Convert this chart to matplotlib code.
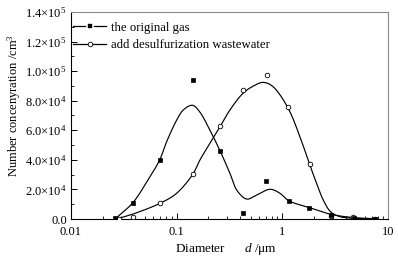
import matplotlib
matplotlib.use("Agg")
import numpy as np
import matplotlib.pyplot as plt
from matplotlib.ticker import FixedLocator, NullFormatter, LogLocator

plt.rcParams['font.family'] = ['Liberation Serif', 'DejaVu Serif']
plt.rcParams['mathtext.fontset'] = 'custom'
plt.rcParams['mathtext.rm'] = 'Liberation Serif'
plt.rcParams['mathtext.it'] = 'Liberation Serif:italic'

# measured points
orig_x = [0.026, 0.0388, 0.069, 0.1426, 0.257, 0.421, 0.705, 1.149, 1.80, 2.86, 4.75, 7.6]
orig_y = [700, 10600, 39700, 93800, 46200, 4300, 25500, 12400, 7600, 2800, 1000, 200]
desulf_x = [0.0282, 0.0388, 0.069, 0.1426, 0.257, 0.423, 0.71, 1.14, 1.81, 2.86, 4.7, 7.6]
desulf_y = [200, 1600, 10600, 30400, 62600, 87000, 97100, 75500, 37000, 2000, 1500, 200]

# fitted curves
orig_fit_x = [0.0261, 0.0388, 0.0513, 0.0690, 0.0804, 0.100, 0.1154, 0.1416, 0.166, 0.206,
              0.257, 0.319, 0.370, 0.459, 0.571, 0.764, 0.949, 1.148, 1.82, 2.86, 4.65, 7.5]
orig_fit_y = [0, 11300, 24300, 39900, 52300, 66900, 73700, 76900, 72300, 60200,
              46200, 30900, 19600, 13500, 16200, 20100, 17400, 12400, 7600, 3200, 1000, 200]
desulf_fit_x = [0.0272, 0.0388, 0.0695, 0.100, 0.1426, 0.166, 0.2065, 0.257, 0.319, 0.424,
                0.531, 0.659, 0.820, 1.137, 1.468, 1.81, 2.11, 2.44, 2.86, 3.51, 4.65, 7.5]
desulf_fit_y = [0, 3400, 10600, 17400, 30400, 39900, 51200, 62400, 73700, 85000,
                89900, 92400, 89400, 74800, 55600, 37000, 24100, 12800, 4900, 1600, 500, 0]

yticks = [0, 20000, 40000, 60000, 80000, 100000, 120000, 140000]
ytick_labels = ['0.0', '2.0×10$^4$', '4.0×10$^4$', '6.0×10$^4$',
                '8.0×10$^4$', '1.0×10$^5$', '1.2×10$^5$', '1.4×10$^5$']
xticks = [0.01, 0.1, 1, 10]
xtick_labels = ['0.01', '0.1', '1', '10']


def smooth_path(xs, ys, n=16):
    """Centripetal Catmull-Rom drawing path through the read curve points (log-x space)."""
    P = np.column_stack([np.log10(xs), np.asarray(ys, float) / 1e5])
    P = np.vstack([2 * P[0] - P[1], P, 2 * P[-1] - P[-2]])
    out = []
    for i in range(1, len(P) - 2):
        p0, p1, p2, p3 = P[i - 1], P[i], P[i + 1], P[i + 2]
        def tj(ti, a, b):
            return ti + np.linalg.norm(b - a) ** 0.5 + 1e-9
        t0 = 0.0
        t1 = tj(t0, p0, p1)
        t2 = tj(t1, p1, p2)
        t3 = tj(t2, p2, p3)
        t = np.linspace(t1, t2, n, endpoint=False)[:, None]
        A1 = (t1 - t) / (t1 - t0) * p0 + (t - t0) / (t1 - t0) * p1
        A2 = (t2 - t) / (t2 - t1) * p1 + (t - t1) / (t2 - t1) * p2
        A3 = (t3 - t) / (t3 - t2) * p2 + (t - t2) / (t3 - t2) * p3
        B1 = (t2 - t) / (t2 - t0) * A1 + (t - t0) / (t2 - t0) * A2
        B2 = (t3 - t) / (t3 - t1) * A2 + (t - t1) / (t3 - t1) * A3
        C = (t2 - t) / (t2 - t1) * B1 + (t - t1) / (t2 - t1) * B2
        out.append(C)
    out.append(P[-2][None, :])
    out = np.vstack(out)
    return 10 ** out[:, 0], np.clip(out[:, 1], 0, None) * 1e5


fig = plt.figure(figsize=(3.98, 2.61), dpi=100)
ax = fig.add_axes([71/398, 1-219/261, 317/398, 207/261])

sx, sy = smooth_path(orig_fit_x, orig_fit_y)
ax.plot(sx, sy, color='black', lw=0.85, zorder=2)
sx, sy = smooth_path(desulf_fit_x, desulf_fit_y)
ax.plot(sx, sy, color='black', lw=0.85, zorder=2)
ax.plot(desulf_x, desulf_y, linestyle='none', marker='o', ms=3.3, mfc='white', mec='black', mew=0.6, zorder=3)
ax.plot(orig_x, orig_y, linestyle='none', marker='s', ms=3.2, mfc='black', mec='black', mew=0.5, zorder=4)

# legend handles
h1, = ax.plot([], [], color='black', lw=0.9, marker='s', ms=4.4, mfc='black', mec='white', mew=1.2)
h2, = ax.plot([], [], color='black', lw=0.9, marker='o', ms=3.3, mfc='white', mec='black', mew=0.6)
leg = ax.legend([h1, h2], ['the original gas', 'add desulfurization wastewater'],
                loc='upper left', bbox_to_anchor=(-0.018, 0.99), frameon=False, fontsize=9.2,
                handlelength=2.6, handletextpad=0.4, labelspacing=0.45, borderaxespad=0.2)

ax.set_xscale('log')
ax.set_xlim(0.01, 10)
ax.set_ylim(0, 140000)
ax.set_xticks(xticks)
ax.set_xticklabels(xtick_labels)
ax.xaxis.set_minor_locator(LogLocator(base=10, subs=[2, 3, 4, 5, 6, 7, 8, 9], numticks=20))
ax.xaxis.set_minor_formatter(NullFormatter())
ax.set_yticks(yticks)
ax.set_yticklabels(ytick_labels)
ax.yaxis.set_minor_locator(FixedLocator([10000, 30000, 50000, 70000, 90000, 110000, 130000]))

ax.tick_params(axis='both', which='major', direction='in', length=4, width=0.7, labelsize=9,
               top=False, right=False)
ax.tick_params(axis='y', which='major', pad=3)
ax.tick_params(axis='x', which='major', pad=5)
ax.tick_params(axis='both', which='minor', direction='in', length=2.5, width=0.6, top=False, right=False)

for s in ['top', 'right']:
    ax.spines[s].set_color('#888888')
    ax.spines[s].set_linewidth(0.8)
for s in ['left', 'bottom']:
    ax.spines[s].set_color('black')
    ax.spines[s].set_linewidth(0.8)

ax.set_xlabel(r'Diameter      $d$ /$\mathrm{\mu}$m', fontsize=9.5)
ax.xaxis.set_label_coords(0.488, -0.108)
ax.set_ylabel(r'Number concenyration /cm$^3$', fontsize=9)
ax.yaxis.set_label_coords(-0.150, 0.546)

fig.savefig('out.png', dpi=100, facecolor='white')
